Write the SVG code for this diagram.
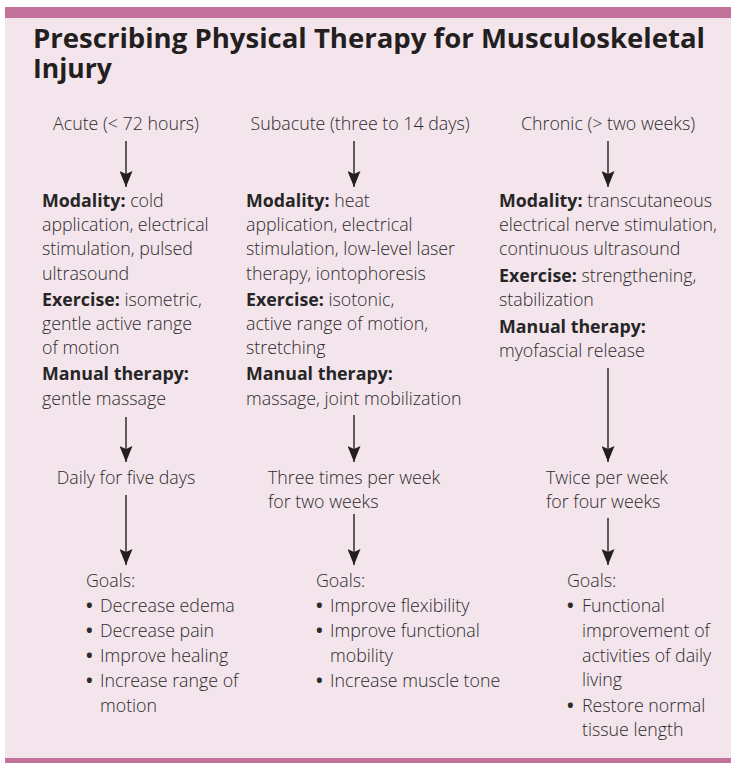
<svg xmlns="http://www.w3.org/2000/svg" width="731" height="763" viewBox="0 0 731 763">
<style>
.t{font-family:"Open Sans","Liberation Sans",sans-serif;font-size:17.8px;font-weight:300;fill:#2b2b2b}
.b{font-weight:700;fill:#262626}
.bu{font-weight:700}
.title{font-family:"Open Sans","Liberation Sans",sans-serif;font-size:26.5px;font-weight:700;fill:#231f20}
.c{text-anchor:middle}
.arr{stroke:#231f20;stroke-width:1.4;fill:none;marker-end:url(#ah)}
</style>
<defs>
<marker id="ah" markerUnits="userSpaceOnUse" markerWidth="16" markerHeight="13" refX="16" refY="6.5" orient="auto">
<path d="M0,0 L16,6.5 L0,13 L3,6.5 Z" fill="#231f20"/>
</marker>
</defs>
<rect x="0" y="0" width="731" height="763" fill="#ffffff"/>
<rect x="5" y="18" width="726" height="740" fill="#f4e4ec"/>
<rect x="5" y="7" width="726" height="11" fill="#c3739b"/>
<rect x="5" y="758" width="726" height="5" fill="#c3739b"/>
<g id="title">
<text class="title"><tspan x="33" y="48" textLength="672" lengthAdjust="spacingAndGlyphs">Prescribing Physical Therapy for Musculoskeletal</tspan><tspan x="33" y="78">Injury</tspan></text>
</g>
<g id="connectors">
<line class="arr" x1="126" y1="141" x2="126" y2="187"/>
<line class="arr" x1="354" y1="141" x2="354" y2="187"/>
<line class="arr" x1="608" y1="141" x2="608" y2="187"/>
<line class="arr" x1="126" y1="417" x2="126" y2="462"/>
<line class="arr" x1="354" y1="415" x2="354" y2="462"/>
<line class="arr" x1="608" y1="368" x2="608" y2="462"/>
<line class="arr" x1="126" y1="495" x2="126" y2="565"/>
<line class="arr" x1="354" y1="514" x2="354" y2="565"/>
<line class="arr" x1="608" y1="518" x2="608" y2="565"/>
</g>
<g id="acute-header"><text class="t c" x="126" y="130">Acute (&lt; 72 hours)</text></g>
<g id="subacute-header"><text class="t c" x="360" y="130">Subacute (three to 14 days)</text></g>
<g id="chronic-header"><text class="t c" x="608" y="130">Chronic (&gt; two weeks)</text></g>
<g id="acute-treatment">
<text class="t" x="42" y="207"><tspan class="b">Modality:</tspan> cold</text>
<text class="t" x="42" y="231">application, electrical</text>
<text class="t" x="42" y="255">stimulation, pulsed</text>
<text class="t" x="42" y="280">ultrasound</text>
<text class="t" x="42" y="306"><tspan class="b">Exercise:</tspan> isometric,</text>
<text class="t" x="42" y="330">gentle active range</text>
<text class="t" x="42" y="354">of motion</text>
<text class="t b" x="42" y="380">Manual therapy:</text>
<text class="t" x="42" y="405">gentle massage</text>
</g>
<g id="subacute-treatment">
<text class="t" x="246" y="207"><tspan class="b">Modality:</tspan> heat</text>
<text class="t" x="246" y="231">application, electrical</text>
<text class="t" x="246" y="255">stimulation, low-level laser</text>
<text class="t" x="246" y="280">therapy, iontophoresis</text>
<text class="t" x="246" y="306"><tspan class="b">Exercise:</tspan> isotonic,</text>
<text class="t" x="246" y="330">active range of motion,</text>
<text class="t" x="246" y="354">stretching</text>
<text class="t b" x="246" y="380">Manual therapy:</text>
<text class="t" x="246" y="405">massage, joint mobilization</text>
</g>
<g id="chronic-treatment">
<text class="t" x="499" y="207"><tspan class="b">Modality:</tspan> transcutaneous</text>
<text class="t" x="499" y="231">electrical nerve stimulation,</text>
<text class="t" x="499" y="255">continuous ultrasound</text>
<text class="t" x="499" y="282"><tspan class="b">Exercise:</tspan> strengthening,</text>
<text class="t" x="499" y="306">stabilization</text>
<text class="t b" x="499" y="333">Manual therapy:</text>
<text class="t" x="499" y="357">myofascial release</text>
</g>
<g id="acute-frequency"><text class="t c" x="126" y="484">Daily for five days</text></g>
<g id="subacute-frequency">
<text class="t" x="268" y="484">Three times per week</text>
<text class="t" x="268" y="508">for two weeks</text>
</g>
<g id="chronic-frequency">
<text class="t" x="546" y="484">Twice per week</text>
<text class="t" x="546" y="508">for four weeks</text>
</g>
<g id="acute-goals">
<text class="t" x="86" y="587">Goals:</text>
<text class="t" x="86" y="612"><tspan class="bu">•</tspan> <tspan x="100">Decrease edema</tspan></text>
<text class="t" x="86" y="637"><tspan class="bu">•</tspan> <tspan x="100">Decrease pain</tspan></text>
<text class="t" x="86" y="662"><tspan class="bu">•</tspan> <tspan x="100">Improve healing</tspan></text>
<text class="t" x="86" y="687"><tspan class="bu">•</tspan> <tspan x="100">Increase range of</tspan></text>
<text class="t" x="100" y="712">motion</text>
</g>
<g id="subacute-goals">
<text class="t" x="316" y="587">Goals:</text>
<text class="t" x="316" y="612"><tspan class="bu">•</tspan> <tspan x="330">Improve flexibility</tspan></text>
<text class="t" x="316" y="637"><tspan class="bu">•</tspan> <tspan x="330">Improve functional</tspan></text>
<text class="t" x="330" y="662">mobility</text>
<text class="t" x="316" y="687"><tspan class="bu">•</tspan> <tspan x="330">Increase muscle tone</tspan></text>
</g>
<g id="chronic-goals">
<text class="t" x="567" y="587">Goals:</text>
<text class="t" x="567" y="612"><tspan class="bu">•</tspan> <tspan x="582">Functional</tspan></text>
<text class="t" x="582" y="637">improvement of</text>
<text class="t" x="582" y="662">activities of daily</text>
<text class="t" x="582" y="686">living</text>
<text class="t" x="567" y="712"><tspan class="bu">•</tspan> <tspan x="582">Restore normal</tspan></text>
<text class="t" x="582" y="736">tissue length</text>
</g>
</svg>
